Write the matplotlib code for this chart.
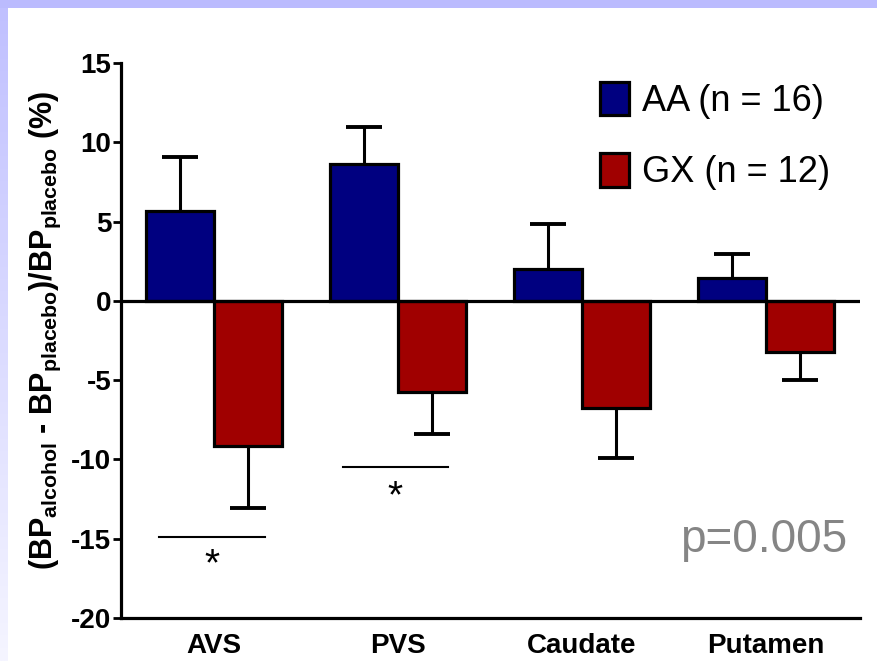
import numpy as np
import matplotlib
matplotlib.use("Agg")
import matplotlib.pyplot as plt
from matplotlib.patches import Rectangle, Patch

plt.rcParams['font.family'] = ['Liberation Sans', 'DejaVu Sans']
plt.rcParams['mathtext.fontset'] = 'custom'
plt.rcParams['mathtext.bf'] = 'Liberation Sans:bold'
plt.rcParams['mathtext.rm'] = 'Liberation Sans'

# ---- data ----
regions = ["AVS", "PVS", "Caudate", "Putamen"]
aa_label = "AA (n = 16)"
gx_label = "GX (n = 12)"
aa_mean = [5.67, 8.64, 2.02, 1.45]
aa_sem = [3.41, 2.33, 2.84, 1.51]
gx_mean = [-9.14, -5.74, -6.75, -3.20]
gx_sem = [3.91, 2.65, 3.15, 1.80]
yticks = [-20, -15, -10, -5, 0, 5, 10, 15]
# significance brackets: (x_start, x_end, y_line, y_star)
sig_lines = [(-0.30, 0.28, -14.9, -16.7), (0.70, 1.27, -10.5, -12.4)]
p_text = "p=0.005"

W, H = 877, 661
fig = plt.figure(figsize=(W / 100, H / 100), dpi=100)
fig.patch.set_facecolor('white')

# decorative slide border
fig.patches.append(Rectangle((0, 1 - 8 / H), 1, 8 / H, transform=fig.transFigure,
                             facecolor='#BBBBFE', edgecolor='none', zorder=0))
bg = fig.add_axes([0, 0, 8 / W, 1 - 8 / H])
grad = np.linspace(0, 1, 256).reshape(-1, 1)
c0 = np.array([192, 192, 255]) / 255
c1 = np.array([245, 245, 255]) / 255
img = c0[None, None, :] * (1 - grad[:, :, None]) + c1[None, None, :] * grad[:, :, None]
bg.imshow(img, aspect='auto', extent=[0, 1, 0, 1])
bg.axis('off')

left, right, top, bottom = 121, 860, 63, 618
ax = fig.add_axes([left / W, 1 - bottom / H, (right - left) / W, (bottom - top) / H])

x = np.arange(len(regions))
bw = 0.37
lw_bar = 2.3

ax.bar(x - bw / 2, aa_mean, width=bw, color='#000080', edgecolor='black',
       linewidth=lw_bar, zorder=3, label=aa_label)
ax.bar(x + bw / 2, gx_mean, width=bw, color='#A00000', edgecolor='black',
       linewidth=lw_bar, zorder=3, label=gx_label)

zeros = [0] * len(regions)
eb1 = ax.errorbar(x - bw / 2, aa_mean, yerr=[zeros, aa_sem], fmt='none', ecolor='black',
                  elinewidth=2.2, capsize=13, capthick=2.8, zorder=2)
eb1[1][0].set_visible(False)   # hide lower caps
eb2 = ax.errorbar(x + bw / 2, gx_mean, yerr=[gx_sem, zeros], fmt='none', ecolor='black',
                  elinewidth=2.2, capsize=13, capthick=2.8, zorder=2)
eb2[1][1].set_visible(False)   # hide upper caps

ax.axhline(0, color='black', linewidth=2.3, zorder=4)

for x0, x1, yl, ys in sig_lines:
    ax.plot([x0, x1], [yl, yl], color='black', linewidth=1.5, zorder=4)
    ax.text((x0 + x1) / 2, ys, '*', ha='center', va='center', fontsize=28,
            color='black')

ax.set_xlim(-0.505, 3.51)
ax.set_ylim(-20, 15)
ax.set_yticks(yticks)
ax.set_yticklabels([str(t) for t in yticks], fontsize=20, fontweight='bold')
ax.set_xticks(x)
ax.set_xticklabels(regions, fontsize=20, fontweight='bold')
ax.tick_params(axis='x', length=0, pad=11)
ax.tick_params(axis='y', length=6, width=2, pad=1, direction='out')

for s in ['top', 'right']:
    ax.spines[s].set_visible(False)
ax.spines['left'].set_linewidth(2.3)
ax.spines['bottom'].set_linewidth(2.3)
ax.patch.set_alpha(0)

fig.text(847 / W, 1 - 540 / H, p_text, fontsize=33, color='#858585',
         ha='right', va='center')

handles = [Patch(facecolor='#000080', edgecolor='black', linewidth=2.3, label=aa_label),
           Patch(facecolor='#A00000', edgecolor='black', linewidth=2.3, label=gx_label)]
leg = fig.legend(handles=handles, loc='upper left',
                 bbox_to_anchor=(600 / W, 1 - 82 / H), frameon=False,
                 fontsize=26, handlelength=0.8, handleheight=1.05,
                 handletextpad=0.35, labelspacing=0.95, borderpad=0, borderaxespad=0)

ylabel = r"(BP$_{\mathbf{alcohol}}$ - BP$_{\mathbf{placebo}}$)/BP$_{\mathbf{placebo}}$ (%)"
fig.text(45 / W, 1 - 331 / H, ylabel, rotation=90, ha='center', va='center',
         fontsize=22, fontweight='bold')

fig.savefig('out.png', dpi=100, facecolor=fig.get_facecolor())
